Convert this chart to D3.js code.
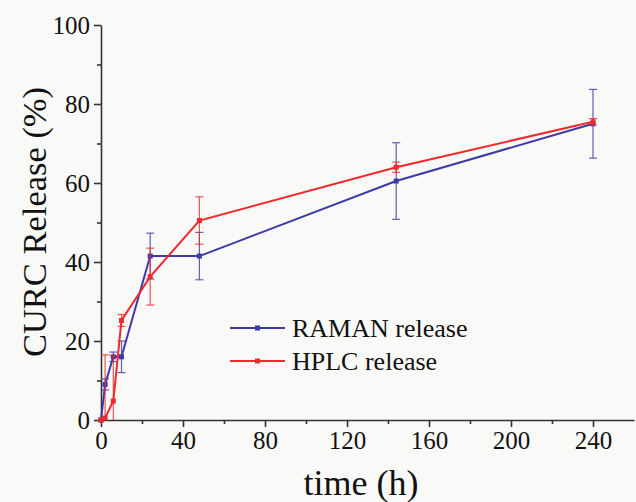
<!DOCTYPE html>
<html>
<head>
<meta charset="utf-8">
<script src="https://cdn.jsdelivr.net/npm/d3@7"></script>
<style>
  body { margin: 0; background: #f9f9f7; }
  svg { display: block; font-family: "Liberation Serif", "DejaVu Serif", serif; }
</style>
</head>
<body>
<script>
var width = 636,
    height = 502;

// release data (time in h, release in %)
var times = [0, 2, 6, 10, 24, 48, 144, 240];
var ramanValues = [0, 9, 16, 16, 41.5, 41.5, 60.5, 75];
var ramanErrors = [0, 1.4, 1.2, 4, 5.8, 6, 9.7, 8.7];
var hplcValues = [0, 0.5, 4.8, 25.2, 36.3, 50.5, 64, 75.5];
var hplcErrors = [0, 16, 11.5, 1.5, 7.2, 6, 1.3, 0.8];

var xTicks = [0, 40, 80, 120, 160, 200, 240];
var yTicks = [0, 20, 40, 60, 80, 100];

var series = [
  {name: "RAMAN release", color: "#3b3aa8", values: ramanValues, errors: ramanErrors},
  {name: "HPLC release", color: "#f2292b", values: hplcValues, errors: hplcErrors}
];

var serif = "Liberation Serif, DejaVu Serif, serif";

var x = d3.scaleLinear()
    .domain([0, 260])
    .range([101, 634]);

var y = d3.scaleLinear()
    .domain([0, 100])
    .range([420, 25]);

var svg = d3.select("body").append("svg")
    .attr("width", width)
    .attr("height", height);

// bottom axis, minor ticks every 20
svg.append("g")
    .attr("transform", "translate(0," + y(0) + ")")
    .call(d3.axisBottom(x).tickValues(d3.range(20, 260, 40)).tickSize(4).tickFormat(""))
    .call(function(g) { g.select(".domain").remove(); });

svg.append("g")
    .attr("transform", "translate(0," + y(0) + ")")
    .call(d3.axisBottom(x).tickValues(xTicks).tickSize(7).tickSizeOuter(0).tickPadding(4))
    .attr("font-family", serif)
    .attr("font-size", 25)
    .call(function(g) { g.selectAll("text").attr("fill", "#111"); });

// left axis
svg.append("g")
    .attr("transform", "translate(" + x(0) + ",0)")
    .call(d3.axisLeft(y).tickValues(d3.range(10, 100, 20)).tickSize(4).tickFormat(""))
    .call(function(g) { g.select(".domain").remove(); });

svg.append("g")
    .attr("transform", "translate(" + x(0) + ",0)")
    .call(d3.axisLeft(y).tickValues(yTicks).tickSize(7).tickSizeOuter(0).tickPadding(4))
    .attr("font-family", serif)
    .attr("font-size", 25)
    .call(function(g) { g.selectAll("text").attr("fill", "#111"); });

svg.selectAll(".domain, .tick line")
    .attr("stroke", "#333")
    .attr("stroke-width", 1.6);

// axis titles
svg.append("text")
    .attr("x", 361)
    .attr("y", 495)
    .attr("text-anchor", "middle")
    .style("font-size", "36px")
    .attr("fill", "#111")
    .text("time (h)");

svg.append("text")
    .attr("transform", "translate(46,222) rotate(-90)")
    .attr("text-anchor", "middle")
    .style("font-size", "34.5px")
    .attr("fill", "#111")
    .text("CURC Release (%)");

var line = d3.line()
    .x(function(d) { return x(d.t); })
    .y(function(d) { return y(d.v); });

series.forEach(function(s) {
  var pts = times.map(function(t, i) { return {t: t, v: s.values[i], e: s.errors[i]}; });
  var g = svg.append("g");

  // error bars
  var eb = g.selectAll(".err")
      .data(pts.filter(function(d) { return d.e > 0; }))
      .enter().append("g")
      .attr("stroke", s.color)
      .attr("stroke-width", 1.2)
      .attr("opacity", 0.8);
  eb.append("line")
      .attr("x1", function(d) { return x(d.t); })
      .attr("x2", function(d) { return x(d.t); })
      .attr("y1", function(d) { return y(d.v + d.e); })
      .attr("y2", function(d) { return y(Math.max(0, d.v - d.e)); });
  eb.append("line")
      .attr("x1", function(d) { return x(d.t) - 4; })
      .attr("x2", function(d) { return x(d.t) + 4; })
      .attr("y1", function(d) { return y(d.v + d.e); })
      .attr("y2", function(d) { return y(d.v + d.e); });
  eb.filter(function(d) { return d.v - d.e > 0; }).append("line")
      .attr("x1", function(d) { return x(d.t) - 4; })
      .attr("x2", function(d) { return x(d.t) + 4; })
      .attr("y1", function(d) { return y(d.v - d.e); })
      .attr("y2", function(d) { return y(d.v - d.e); });

  g.append("path")
      .datum(pts)
      .attr("fill", "none")
      .attr("stroke", s.color)
      .attr("stroke-width", 2)
      .attr("d", line);

  g.selectAll("rect")
      .data(pts)
      .enter().append("rect")
      .attr("x", function(d) { return x(d.t) - 2.5; })
      .attr("y", function(d) { return y(d.v) - 2.5; })
      .attr("width", 5)
      .attr("height", 5)
      .attr("fill", s.color);
});

// legend
var legend = svg.append("g")
    .attr("transform", "translate(230,328)");

series.forEach(function(s, i) {
  var row = legend.append("g").attr("transform", "translate(0," + (i * 33) + ")");
  row.append("line")
      .attr("x1", 0).attr("x2", 55)
      .attr("stroke", s.color)
      .attr("stroke-width", 2);
  row.append("rect")
      .attr("x", 25).attr("y", -2.5)
      .attr("width", 5).attr("height", 5)
      .attr("fill", s.color);
  row.append("text")
      .attr("x", 62)
      .attr("y", 9)
      .style("font-size", "26px")
      .attr("fill", "#111")
      .text(s.name);
});
</script>
</body>
</html>
